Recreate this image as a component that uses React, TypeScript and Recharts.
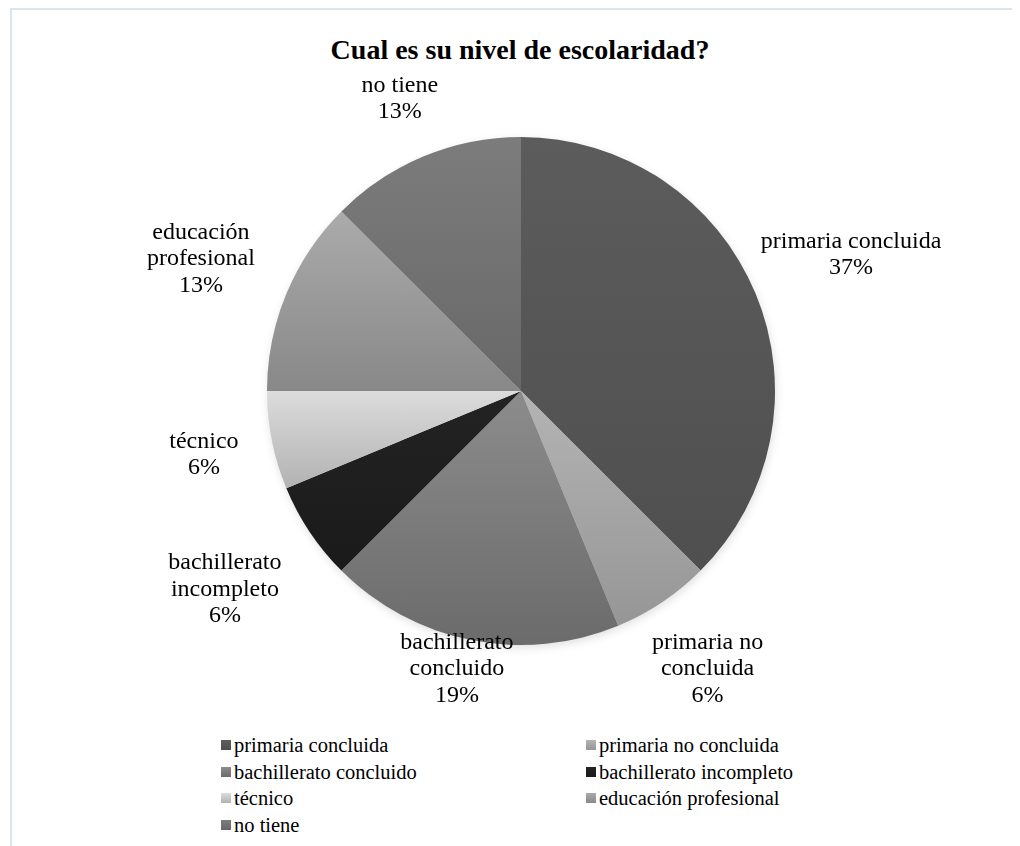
import { PieChart, Pie, Cell, Legend } from "recharts";

const categories = [
  "primaria concluida",
  "primaria no concluida",
  "bachillerato concluido",
  "bachillerato incompleto",
  "técnico",
  "educación profesional",
  "no tiene",
];
const counts = [6, 1, 3, 1, 1, 2, 2];
const percentLabels = ["37%", "6%", "19%", "6%", "6%", "13%", "13%"];
const topShades = ["#5c5c5c", "#b4b4b4", "#8c8c8c", "#232323", "#dcdcdc", "#ababab", "#7c7c7c"];
const bottomShades = ["#4f4f4f", "#969696", "#6b6b6b", "#1a1a1a", "#b2b2b2", "#888888", "#686868"];

const FONT = '"Liberation Serif", "DejaVu Serif", serif';
const LABEL_SIZE = 24;
const LINE = 26.5;
const GAP = 34;
const PLOT_BOTTOM = 698;

const rows = categories.map((name, i) => ({ name, value: counts[i] }));

let ctx: CanvasRenderingContext2D | null = null;
function textWidth(s: string) {
  if (!ctx) ctx = document.createElement("canvas").getContext("2d");
  if (!ctx) return s.length * 11;
  ctx.font = `${LABEL_SIZE}px ${FONT}`;
  return ctx.measureText(s).width;
}

// wrap category names the way the office label box does (~200px wide)
function wrap(text: string, maxW: number) {
  const words = text.split(" ");
  const out: string[] = [];
  let cur = "";
  words.forEach((w) => {
    const next = cur ? cur + " " + w : w;
    if (cur && textWidth(next) > maxW) {
      out.push(cur);
      cur = w;
    } else cur = next;
  });
  if (cur) out.push(cur);
  return out;
}

const renderLabel = (props: any) => {
  const { cx, cy, midAngle, outerRadius, index } = props;
  const rad = (-midAngle * Math.PI) / 180;
  const dx = Math.cos(rad);
  const dy = Math.sin(rad);
  const lines = [...wrap(categories[index], 200), percentLabels[index]];
  const w = Math.max(...lines.map(textWidth));
  const h = lines.length * LINE;
  const t = Math.min(
    Math.abs(dx) > 1e-6 ? w / 2 / Math.abs(dx) : Infinity,
    Math.abs(dy) > 1e-6 ? h / 2 / Math.abs(dy) : Infinity
  );
  const d = outerRadius + GAP + t;
  const bx = cx + d * dx;
  const by = Math.min(cy + d * dy, PLOT_BOTTOM - h / 2);
  const top = by - h / 2;
  return (
    <text textAnchor="middle" fontFamily={FONT} fontSize={LABEL_SIZE} fill="#000">
      {lines.map((l, i) => (
        <tspan key={i} x={bx} y={top + 20 + i * LINE}>
          {l}
        </tspan>
      ))}
    </text>
  );
};

function LegendGrid() {
  return (
    <div
      style={{
        display: "grid",
        gridTemplateColumns: "365px 365px",
        fontFamily: FONT,
        fontSize: 20.5,
        lineHeight: "26.5px",
        color: "#000",
      }}
    >
      {rows.map((r, i) => (
        <div key={r.name} style={{ display: "flex", alignItems: "center", whiteSpace: "nowrap" }}>
          <svg width={10} height={10} style={{ marginRight: 3 }}>
            <rect width={10} height={10} fill={`url(#shade${i})`} />
          </svg>
          <span>{r.name}</span>
        </div>
      ))}
    </div>
  );
}

export default function App() {
  return (
    <div
      style={{
        marginLeft: 2,
        width: 1010,
        height: 838,
        borderTop: "2px solid #dbe4f1",
        borderLeft: "2px solid #dbe4f1",
        position: "relative",
        background: "#fff",
      }}
    >
      <style>{`html,body{overflow:hidden;} .pie-shadow{filter:blur(3px);opacity:0.35;}`}</style>
      <div
        style={{
          position: "absolute",
          left: 508,
          top: 24,
          transform: "translateX(-50%)",
          whiteSpace: "nowrap",
          fontFamily: FONT,
          fontWeight: "bold",
          fontSize: 28,
          lineHeight: "32px",
          color: "#000",
          zIndex: 2,
        }}
      >
        Cual es su nivel de escolaridad?
      </div>
      <PieChart width={1000} height={828}>
        <defs>
          {topShades.map((c, i) => (
            <linearGradient key={i} id={`shade${i}`} x1="0" y1="0" x2="0" y2="1">
              <stop offset="0%" stopColor={c} />
              <stop offset="100%" stopColor={bottomShades[i]} />
            </linearGradient>
          ))}
        </defs>
        <Pie
          className="pie-shadow"
          data={rows}
          dataKey="value"
          nameKey="name"
          cx={505}
          cy={379}
          outerRadius={254}
          startAngle={90}
          endAngle={-270}
          fill="#000"
          stroke="none"
          legendType="none"
          isAnimationActive={false}
        />
        <Pie
          data={rows}
          dataKey="value"
          nameKey="name"
          cx={504}
          cy={376}
          outerRadius={254}
          startAngle={90}
          endAngle={-270}
          stroke="none"
          label={renderLabel}
          labelLine={false}
          isAnimationActive={false}
        >
          {rows.map((r, i) => (
            <Cell key={r.name} fill={`url(#shade${i})`} />
          ))}
        </Pie>
        <Legend
          content={() => <LegendGrid />}
          wrapperStyle={{ position: "absolute", left: 209, top: 722, width: 740 }}
        />
      </PieChart>
    </div>
  );
}
